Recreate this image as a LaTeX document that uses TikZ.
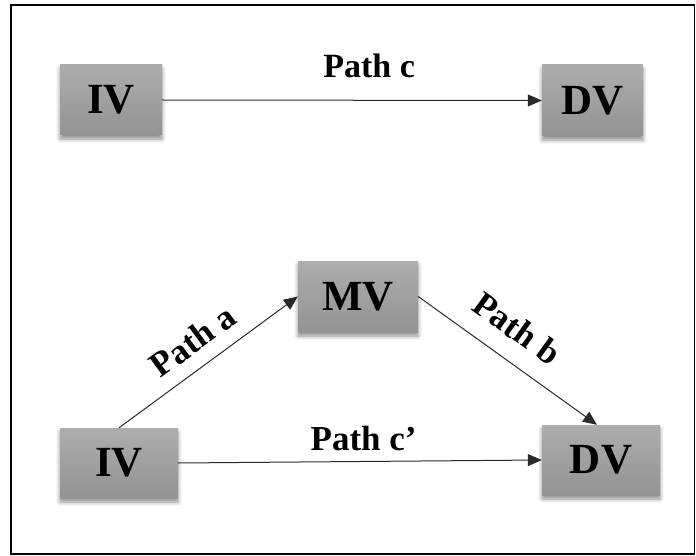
\documentclass[tikz,border=0pt]{standalone}
\usepackage{fontspec}
\setmainfont{Liberation Serif}
\usetikzlibrary{arrows.meta,shadows.blur}
\definecolor{boxtop}{HTML}{ADADAD}
\definecolor{boxbot}{HTML}{939393}
\definecolor{linec}{HTML}{2A2A2A}
\tikzset{
  varbox/.style={rectangle, draw=none, top color=boxtop, bottom color=boxbot,
    blur shadow={shadow xshift=0pt, shadow yshift=-4pt, shadow blur radius=4pt, shadow opacity=45},
    font=\bfseries\fontsize{43}{43}\selectfont, inner sep=0pt},
  conn/.style={draw=linec, line width=1pt, -{Triangle[length=14pt,width=12pt]}},
  lbl/.style={font=\bfseries\fontsize{35}{35}\selectfont, inner sep=0pt, text=black}
}
\begin{document}
\begin{tikzpicture}[x=1pt,y=-1pt]
\useasboundingbox (0,0) rectangle (696,556);
\draw[line width=1.5pt] (11,5) rectangle (694.5,554);
\node[varbox, minimum width=102pt, minimum height=70pt] (iv1) at (111,100) {IV};
\node[varbox, minimum width=101pt, minimum height=71pt] (dv1) at (592.5,100.5) {DV};
\node[varbox, minimum width=120pt, minimum height=71pt] (mv) at (358,296.5) {MV};
\node[varbox, minimum width=118pt, minimum height=70pt] (iv2) at (119,463) {IV};
\node[varbox, minimum width=118pt, minimum height=70pt] (dv2) at (601,460) {DV};
\draw[conn] (iv1.east) -- node[lbl, pos=0.545, above=22pt, font=\bfseries\fontsize{34}{34}\selectfont] {Path c} (dv1.west);
\draw[conn] (iv2.north) -- node[lbl, pos=0.5, sloped, above=14pt] {Path a} (mv.west);
\draw[conn] (mv.east) -- node[lbl, pos=0.45, sloped, above=19pt] {Path b} ([xshift=-4pt]dv2.north);
\draw[conn] (iv2.east) -- node[lbl, pos=0.51, above=10pt] {Path c’} (dv2.west);
\end{tikzpicture}
\end{document}
